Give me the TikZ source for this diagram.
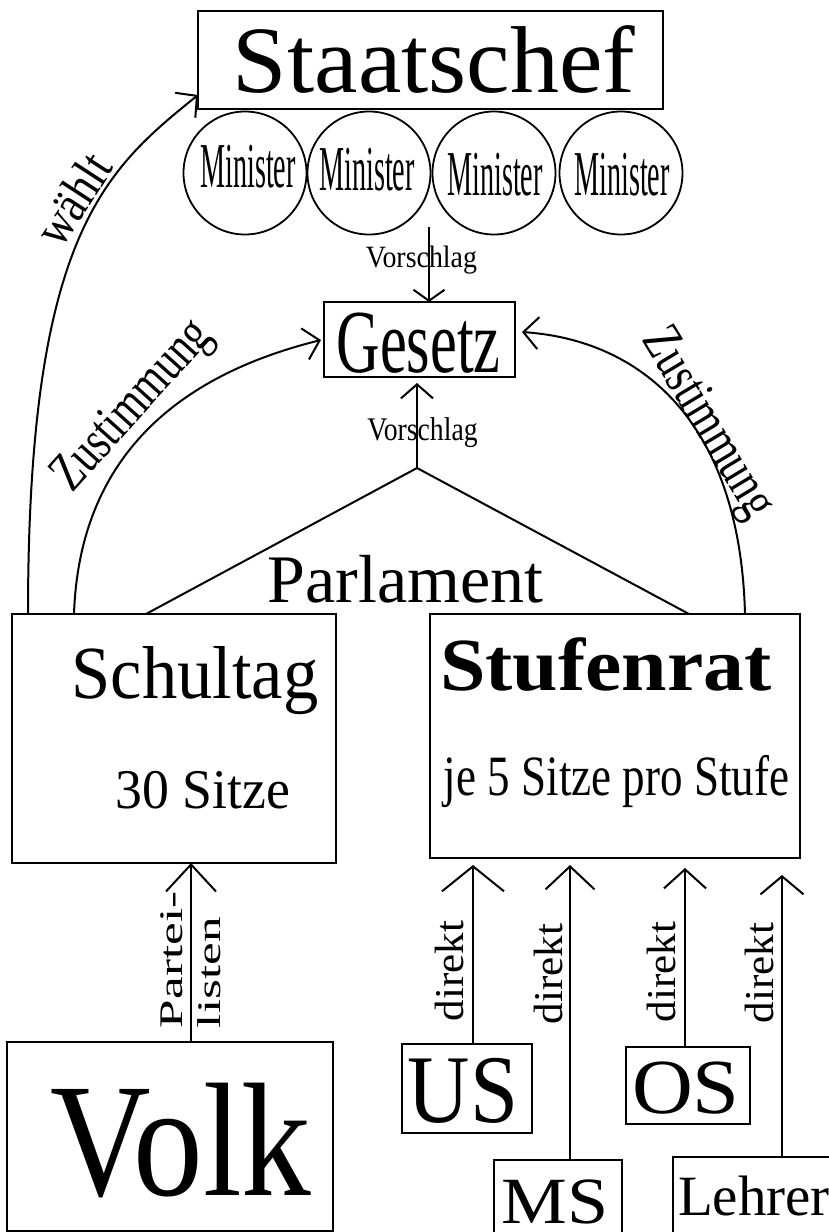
\documentclass[tikz,border=0pt]{standalone}
\usepackage{fontspec}
\setmainfont{Liberation Serif}
\usetikzlibrary{arrows.meta}
\newcommand\txs[3]{\scalebox{#2}[1]{\fontsize{#1pt}{#1pt}\selectfont #3}}
\begin{document}
\begin{tikzpicture}[x=1pt,y=-1pt,
  box/.style={draw, line width=2pt, inner sep=0pt, outer sep=0pt},
  mincirc/.style={draw, circle, line width=1.8pt, minimum size=123pt, inner sep=0pt, outer sep=0pt},
  lbl/.style={inner sep=0pt, outer sep=0pt},
  ln/.style={line width=2pt},
  tipS/.style={-{Straight Barb[length=11pt,width=31pt]}},
  tipM/.style={-{Straight Barb[length=14pt,width=32pt]}},
  tipZ/.style={-{Straight Barb[length=15pt,width=32pt]}},
  tipL/.style={-{Straight Barb[length=27pt,width=50pt]}},
]
\useasboundingbox (0,0) rectangle (829,1232);
\clip (0,0) rectangle (829,1232);

% boxes
\node[box, line width=2.6pt, minimum width=465pt, minimum height=98pt] (staat) at (430.5,60) {};
\node[box, line width=1.5pt, minimum width=191pt, minimum height=75pt] (gesetz) at (419.5,339.5) {};
\node[box, minimum width=324pt, minimum height=249pt] (schultag) at (174,738.5) {};
\node[box, minimum width=370pt, minimum height=244pt] (stufenrat) at (615,736) {};
\node[box, minimum width=326pt, minimum height=189pt] (volk) at (170,1136.5) {};
\node[box, minimum width=130pt, minimum height=89pt] (us) at (467,1088.5) {};
\node[box, minimum width=124pt, minimum height=77pt] (os) at (688,1085.5) {};
\node[box, minimum width=128pt, minimum height=100pt] (ms) at (558,1210) {};
\node[box, minimum width=227pt, minimum height=103pt] (lehrer) at (786.5,1208.5) {};

% minister circles
\node[mincirc] (m1) at (245,173) {};
\node[mincirc] (m2) at (369,173) {};
\node[mincirc] (m3) at (494,173) {};
\node[mincirc] (m4) at (621,173) {};

% texts
\node[lbl, anchor=base] (tStaat) at (434,92) {\txs{95}{1.03}{Staatschef}};
\node[lbl, anchor=base] (tm1) at (248,187) {\txs{64}{0.44}{Minister}};
\node[lbl, anchor=base] (tm2) at (367,190) {\txs{64}{0.44}{Minister}};
\node[lbl, anchor=base] (tm3) at (495,195) {\txs{64}{0.44}{Minister}};
\node[lbl, anchor=base] (tm4) at (622,195) {\txs{64}{0.44}{Minister}};
\node[lbl, anchor=base] (tv1) at (421.5,267) {\txs{31}{0.9}{Vorschlag}};
\node[lbl, anchor=base] (tGes) at (418.5,372) {\txs{90}{0.67}{Gesetz}};
\node[lbl, anchor=base] (tv2) at (422.5,440) {\txs{33}{0.84}{Vorschlag}};
\node[lbl, anchor=base] (tParl) at (405.5,602) {\txs{68}{1.0}{Parlament}};
\node[lbl, anchor=base] (tSchul) at (195,698) {\txs{75}{0.94}{Schultag}};
\node[lbl, anchor=base] (tSitze) at (202.5,808) {\txs{56}{0.96}{30 Sitze}};
\node[lbl, anchor=base] (tStuf) at (606,690) {\txs{75}{1.09}{\bfseries Stufenrat}};
\node[lbl, anchor=base] (tJe) at (616.5,795) {\txs{57}{0.79}{je 5 Sitze pro Stufe}};
\node[lbl, anchor=base] (tVolk) at (181,1195) {\txs{162}{0.86}{Volk}};
\node[lbl, anchor=base] (tUS) at (463,1122) {\txs{97}{0.89}{US}};
\node[lbl, anchor=base] (tOS) at (686,1113) {\txs{78}{1.08}{OS}};
\node[lbl, anchor=base, text depth=0pt] (tMS) at (555,1223) {\txs{66}{1.12}{MS}};
\node[lbl, anchor=base west] (tLeh) at (678,1215) {\txs{57}{1.0}{Lehrer}};

% rotated labels
\node[lbl, rotate=90, anchor=base west] (tP1) at (182,1028) {\txs{33}{1.55}{Partei-}};
\node[lbl, rotate=90, anchor=base west] (tP2) at (220,1028) {\txs{33}{1.55}{listen}};
\node[lbl, rotate=90, anchor=base west] (d1) at (463,1021) {\txs{41}{1.05}{direkt}};
\node[lbl, rotate=90, anchor=base west] (d2) at (562,1024) {\txs{41}{1.05}{direkt}};
\node[lbl, rotate=90, anchor=base west] (d3) at (675,1022) {\txs{41}{1.05}{direkt}};
\node[lbl, rotate=90, anchor=base west] (d4) at (773,1023) {\txs{41}{1.05}{direkt}};
\node[lbl, rotate=57, anchor=center] (tW) at (73,199) {\txs{52}{0.85}{wählt}};
\node[lbl, rotate=48, anchor=center] (tZ1) at (134,407) {\txs{55}{0.75}{Zustimmung}};
\node[lbl, rotate=-59, anchor=center] (tZ2) at (706,424) {\txs{55}{0.75}{Zustimmung}};

% coordinates
\coordinate (vtop) at (429,227);
\coordinate (apex) at (417,468);
\coordinate (tl) at (146,614);
\coordinate (tr) at (689,614);
\coordinate (w0) at (28,614);
\coordinate (z1) at (74,614);
\coordinate (z2) at (745,614);
\coordinate (zl) at (321,340);
\coordinate (zr) at (522,332);
\coordinate (px) at (191,0);
\coordinate (x1) at (473,0);
\coordinate (x2) at (570,0);
\coordinate (x3) at (685,0);
\coordinate (x4) at (782,0);

% connectors
\draw[ln, tipS] (vtop) -- (vtop |- gesetz.north);
\draw[ln, tipM, shorten >=6pt] (apex) -- (apex |- gesetz.south);
\draw[ln] (tl) -- (apex) -- (tr);
\draw[ln, tipZ] (w0) .. controls (28,235) and (105,170) .. ([yshift=14pt]staat.south west);
\draw[ln, tipZ] (z1) .. controls (80,440) and (200,370) .. (zl);
\draw[ln, tipZ] (z2) .. controls (740,420) and (640,340) .. (zr);

\draw[ln, tipL] (volk.north -| px) -- (schultag.south -| px);
\draw[ln, -{Straight Barb[length=25pt,width=62pt]}, shorten >=7pt] (us.north -| x1) -- (stufenrat.south -| x1);
\draw[ln, -{Straight Barb[length=23pt,width=49pt]}, shorten >=7pt] (ms.north -| x2) -- (stufenrat.south -| x2);
\draw[ln, -{Straight Barb[length=19pt,width=42pt]}, shorten >=10pt] (os.north -| x3) -- (stufenrat.south -| x3);
\draw[ln, -{Straight Barb[length=18pt,width=43pt]}, shorten >=17pt] (lehrer.north -| x4) -- (stufenrat.south -| x4);
\end{tikzpicture}
\end{document}
